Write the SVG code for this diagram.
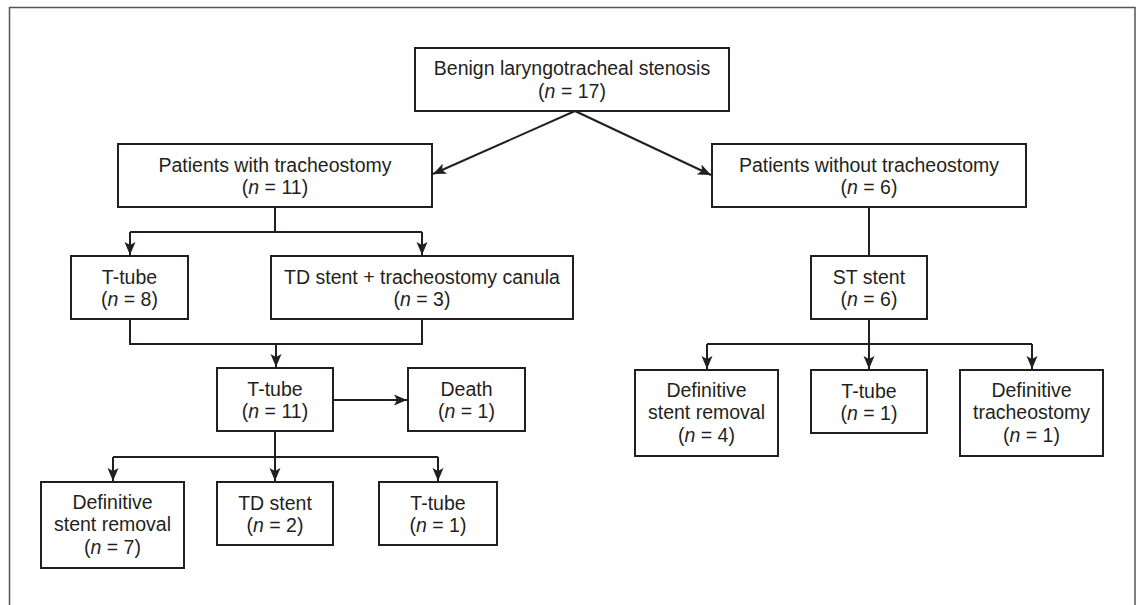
<svg xmlns="http://www.w3.org/2000/svg" width="1143" height="605" viewBox="0 0 1143 605">
<defs>
<style>
.box{fill:#fff;stroke:#231f20;stroke-width:2}
.t{font-family:"Liberation Sans",Arial,sans-serif;font-size:19.5px;fill:#231f20;text-anchor:middle}
.i{font-style:italic}
.c{fill:none;stroke:#231f20;stroke-width:2}
.frame{fill:none;stroke:#555;stroke-width:1.5}
</style>
<marker id="ah" markerUnits="userSpaceOnUse" markerWidth="14" markerHeight="12" refX="13" refY="6" orient="auto">
<path d="M0,0.5 L13,6 L0,11.5 L3,6 z" fill="#231f20"/>
</marker>
</defs>
<rect width="1143" height="605" fill="#fff"/>
<path class="frame" d="M9.5,605 V7.5 H1135 V605"/>
<g id="connectors">
<path class="c" d="M575,111 L433,174" marker-end="url(#ah)"/>
<path class="c" d="M575,111 L711,175" marker-end="url(#ah)"/>
<path class="c" d="M275,207 V232 M130,232 H422"/>
<path class="c" d="M130,232 V255" marker-end="url(#ah)"/>
<path class="c" d="M422,232 V255" marker-end="url(#ah)"/>
<path class="c" d="M130,319 V344 H422 V319"/>
<path class="c" d="M276,344 V367" marker-end="url(#ah)"/>
<path class="c" d="M333,400 H407" marker-end="url(#ah)"/>
<path class="c" d="M275,431 V457 M113,457 H438"/>
<path class="c" d="M113,457 V481" marker-end="url(#ah)"/>
<path class="c" d="M275,457 V481" marker-end="url(#ah)"/>
<path class="c" d="M438,457 V481" marker-end="url(#ah)"/>
<path class="c" d="M869,207 V256"/>
<path class="c" d="M869,319 V344 M707,344 H1032"/>
<path class="c" d="M707,344 V369" marker-end="url(#ah)"/>
<path class="c" d="M869,344 V369" marker-end="url(#ah)"/>
<path class="c" d="M1032,344 V369" marker-end="url(#ah)"/>
</g>
<g id="root">
<rect class="box" x="415" y="48" width="314" height="63"/>
<text class="t" x="572" y="75">Benign laryngotracheal stenosis</text>
<text class="t" x="572" y="98">(<tspan class="i">n</tspan> = 17)</text>
</g>
<g id="with-trach">
<rect class="box" x="118" y="144" width="314" height="63"/>
<text class="t" x="275" y="171.5">Patients with tracheostomy</text>
<text class="t" x="275" y="194">(<tspan class="i">n</tspan> = 11)</text>
</g>
<g id="without-trach">
<rect class="box" x="712" y="144" width="314" height="63"/>
<text class="t" x="869" y="171.5">Patients without tracheostomy</text>
<text class="t" x="869" y="194">(<tspan class="i">n</tspan> = 6)</text>
</g>
<g id="ttube8">
<rect class="box" x="71" y="256" width="117" height="63"/>
<text class="t" x="129.5" y="283.5">T-tube</text>
<text class="t" x="129.5" y="306">(<tspan class="i">n</tspan> = 8)</text>
</g>
<g id="td-canula">
<rect class="box" x="271" y="256" width="302" height="63"/>
<text class="t" x="422" y="283.5">TD stent + tracheostomy canula</text>
<text class="t" x="422" y="306">(<tspan class="i">n</tspan> = 3)</text>
</g>
<g id="st-stent">
<rect class="box" x="811" y="256" width="116" height="63"/>
<text class="t" x="869" y="283.5">ST stent</text>
<text class="t" x="869" y="306">(<tspan class="i">n</tspan> = 6)</text>
</g>
<g id="ttube11">
<rect class="box" x="217" y="368" width="116" height="63"/>
<text class="t" x="275" y="395.5">T-tube</text>
<text class="t" x="275" y="418">(<tspan class="i">n</tspan> = 11)</text>
</g>
<g id="death">
<rect class="box" x="408" y="368" width="117" height="63"/>
<text class="t" x="466.5" y="395.5">Death</text>
<text class="t" x="466.5" y="418">(<tspan class="i">n</tspan> = 1)</text>
</g>
<g id="def-removal-7">
<rect class="box" x="41" y="482" width="143" height="86"/>
<text class="t" x="112.5" y="508.5">Definitive</text>
<text class="t" x="112.5" y="531">stent removal</text>
<text class="t" x="112.5" y="553.5">(<tspan class="i">n</tspan> = 7)</text>
</g>
<g id="td-stent-2">
<rect class="box" x="217" y="482" width="116" height="63"/>
<text class="t" x="275" y="509.5">TD stent</text>
<text class="t" x="275" y="532">(<tspan class="i">n</tspan> = 2)</text>
</g>
<g id="ttube1-left">
<rect class="box" x="379" y="482" width="118" height="63"/>
<text class="t" x="438" y="509.5">T-tube</text>
<text class="t" x="438" y="532">(<tspan class="i">n</tspan> = 1)</text>
</g>
<g id="def-removal-4">
<rect class="box" x="635" y="370" width="143" height="86"/>
<text class="t" x="706.5" y="396.5">Definitive</text>
<text class="t" x="706.5" y="419">stent removal</text>
<text class="t" x="706.5" y="441.5">(<tspan class="i">n</tspan> = 4)</text>
</g>
<g id="ttube1-right">
<rect class="box" x="811" y="370" width="116" height="63"/>
<text class="t" x="869" y="397.5">T-tube</text>
<text class="t" x="869" y="420">(<tspan class="i">n</tspan> = 1)</text>
</g>
<g id="def-trach">
<rect class="box" x="960" y="370" width="143" height="86"/>
<text class="t" x="1031.5" y="396.5">Definitive</text>
<text class="t" x="1031.5" y="419">tracheostomy</text>
<text class="t" x="1031.5" y="441.5">(<tspan class="i">n</tspan> = 1)</text>
</g>
</svg>
